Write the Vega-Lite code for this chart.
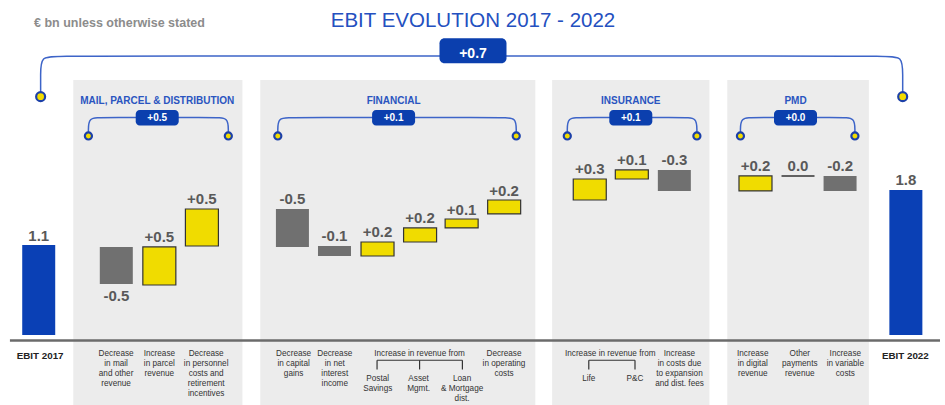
{
  "$schema": "https://vega.github.io/schema/vega-lite/v6.json",
  "width": 945,
  "height": 405,
  "autosize": {"type": "fit", "contains": "padding"},
  "padding": 0,
  "background": "#ffffff",
  "config": {"view": {"stroke": null}, "axis": {"disable": true}},
  "datasets": {
    "bars": [
      {"name": "EBIT 2017", "slot": 0.17, "low": 0, "high": 1.104, "type": "total", "label": "1.1", "side": "above"},
      {"name": "Mail", "slot": 2.0, "low": 0.626, "high": 1.08, "type": "down", "label": "-0.5", "side": "below"},
      {"name": "Parcel", "slot": 3.015, "low": 0.613, "high": 1.08, "type": "up", "label": "+0.5", "side": "above"},
      {"name": "Personnel", "slot": 4.019, "low": 1.092, "high": 1.546, "type": "up", "label": "+0.5", "side": "above"},
      {"name": "Capital gains", "slot": 6.154, "low": 1.08, "high": 1.546, "type": "down", "label": "-0.5", "side": "above"},
      {"name": "Net interest income", "slot": 7.146, "low": 0.969, "high": 1.092, "type": "down", "label": "-0.1", "side": "above"},
      {"name": "Postal Savings", "slot": 8.161, "low": 0.969, "high": 1.141, "type": "up", "label": "+0.2", "side": "above"},
      {"name": "Asset Mgmt.", "slot": 9.165, "low": 1.141, "high": 1.313, "type": "up", "label": "+0.2", "side": "above"},
      {"name": "Loan & Mortgage dist.", "slot": 10.145, "low": 1.313, "high": 1.423, "type": "up", "label": "+0.1", "side": "above"},
      {"name": "Operating costs", "slot": 11.148, "low": 1.485, "high": 1.656, "type": "up", "label": "+0.2", "side": "above"},
      {"name": "Life", "slot": 13.167, "low": 1.656, "high": 1.914, "type": "up", "label": "+0.3", "side": "above"},
      {"name": "P&C", "slot": 14.159, "low": 1.914, "high": 2.025, "type": "up", "label": "+0.1", "side": "above"},
      {"name": "Insurance costs", "slot": 15.162, "low": 1.767, "high": 2.025, "type": "down", "label": "-0.3", "side": "above"},
      {"name": "Digital revenue", "slot": 17.076, "low": 1.767, "high": 1.951, "type": "up", "label": "+0.2", "side": "above"},
      {"name": "Other payments revenue", "slot": 18.079, "low": 1.951, "high": 1.951, "type": "zero", "label": "0.0", "side": "above"},
      {"name": "Variable costs", "slot": 19.071, "low": 1.767, "high": 1.951, "type": "down", "label": "-0.2", "side": "above"},
      {"name": "EBIT 2022", "slot": 20.623, "low": 0, "high": 1.779, "type": "total", "label": "1.8", "side": "above"}
    ],
    "panels": [
      {"g": "MPD", "x0": 0.985, "x1": 4.975},
      {"g": "FIN", "x0": 5.396, "x1": 11.883},
      {"g": "INS", "x0": 12.28, "x1": 15.99},
      {"g": "PMD", "x0": 16.41, "x1": 19.75}
    ],
    "groups": [
      {"title": "MAIL, PARCEL & DISTRIBUTION", "center": 2.965, "delta": "+0.5"},
      {"title": "FINANCIAL", "center": 8.54, "delta": "+0.1"},
      {"title": "INSURANCE", "center": 14.135, "delta": "+0.1"},
      {"title": "PMD", "center": 18.02, "delta": "+0.0"}
    ],
    "brackets": [
      {"g": "ALL", "i": 0, "bx": 0.215, "by": 2.924},
      {"g": "ALL", "i": 1, "bx": 0.215, "by": 3.202},
      {"g": "ALL", "i": 2, "bx": 0.215, "by": 3.423},
      {"g": "ALL", "i": 3, "bx": 0.635, "by": 3.423},
      {"g": "ALL", "i": 4, "bx": 20.128, "by": 3.423},
      {"g": "ALL", "i": 5, "bx": 20.548, "by": 3.423},
      {"g": "ALL", "i": 6, "bx": 20.548, "by": 3.202},
      {"g": "ALL", "i": 7, "bx": 20.548, "by": 2.924},
      {"g": "MPD", "i": 0, "bx": 1.342, "by": 2.442},
      {"g": "MPD", "i": 1, "bx": 1.342, "by": 2.503},
      {"g": "MPD", "i": 2, "bx": 1.342, "by": 2.669},
      {"g": "MPD", "i": 3, "bx": 1.657, "by": 2.669},
      {"g": "MPD", "i": 4, "bx": 4.327, "by": 2.669},
      {"g": "MPD", "i": 5, "bx": 4.642, "by": 2.669},
      {"g": "MPD", "i": 6, "bx": 4.642, "by": 2.503},
      {"g": "MPD", "i": 7, "bx": 4.642, "by": 2.442},
      {"g": "FIN", "i": 0, "bx": 5.809, "by": 2.442},
      {"g": "FIN", "i": 1, "bx": 5.809, "by": 2.503},
      {"g": "FIN", "i": 2, "bx": 5.809, "by": 2.669},
      {"g": "FIN", "i": 3, "bx": 6.124, "by": 2.669},
      {"g": "FIN", "i": 4, "bx": 11.118, "by": 2.669},
      {"g": "FIN", "i": 5, "bx": 11.433, "by": 2.669},
      {"g": "FIN", "i": 6, "bx": 11.433, "by": 2.503},
      {"g": "FIN", "i": 7, "bx": 11.433, "by": 2.442},
      {"g": "INS", "i": 0, "bx": 12.637, "by": 2.442},
      {"g": "INS", "i": 1, "bx": 12.637, "by": 2.503},
      {"g": "INS", "i": 2, "bx": 12.637, "by": 2.669},
      {"g": "INS", "i": 3, "bx": 12.952, "by": 2.669},
      {"g": "INS", "i": 4, "bx": 15.379, "by": 2.669},
      {"g": "INS", "i": 5, "bx": 15.694, "by": 2.669},
      {"g": "INS", "i": 6, "bx": 15.694, "by": 2.503},
      {"g": "INS", "i": 7, "bx": 15.694, "by": 2.442},
      {"g": "PMD", "i": 0, "bx": 16.721, "by": 2.442},
      {"g": "PMD", "i": 1, "bx": 16.721, "by": 2.503},
      {"g": "PMD", "i": 2, "bx": 16.721, "by": 2.669},
      {"g": "PMD", "i": 3, "bx": 17.036, "by": 2.669},
      {"g": "PMD", "i": 4, "bx": 19.106, "by": 2.669},
      {"g": "PMD", "i": 5, "bx": 19.421, "by": 2.669},
      {"g": "PMD", "i": 6, "bx": 19.421, "by": 2.503},
      {"g": "PMD", "i": 7, "bx": 19.421, "by": 2.442}
    ],
    "catLabels": [
      {"slot": 1.995, "text": "Decrease\nin mail\nand other\nrevenue"},
      {"slot": 3.015, "text": "Increase\nin parcel\nrevenue"},
      {"slot": 4.119, "text": "Decrease\nin personnel\ncosts and\nretirement\nincentives"},
      {"slot": 6.182, "text": "Decrease\nin capital\ngains"},
      {"slot": 7.153, "text": "Decrease\nin net\ninterest\nincome"},
      {"slot": 9.153, "text": "Increase in revenue from"},
      {"slot": 11.144, "text": "Decrease\nin operating\ncosts"},
      {"slot": 13.65, "text": "Increase in revenue from"},
      {"slot": 15.283, "text": "Increase\nin costs due\nto expansion\nand dist. fees"},
      {"slot": 17.011, "text": "Increase\nin digital\nrevenue"},
      {"slot": 18.121, "text": "Other\npayments\nrevenue"},
      {"slot": 19.195, "text": "Increase\nin variable\ncosts"}
    ],
    "subLabels": [
      {"slot": 8.166, "text": "Postal\nSavings"},
      {"slot": 9.129, "text": "Asset\nMgmt."},
      {"slot": 10.156, "text": "Loan\n& Mortgage\ndist."},
      {"slot": 13.144, "text": "Life"},
      {"slot": 14.234, "text": "P&C"}
    ],
    "totalLabels": [
      {"slot": 0.203, "text": "EBIT 2017"},
      {"slot": 20.611, "text": "EBIT 2022"}
    ],
    "subSpans": [
      {"l": 8.15, "r": 10.163},
      {"l": 13.144, "r": 14.234}
    ],
    "subTicks": [
      {"t": 8.15}, {"t": 9.153}, {"t": 10.163}, {"t": 13.144}, {"t": 14.234}
    ]
  },
  "layer": [
    {
      "data": {"name": "panels"},
      "mark": {"type": "rect", "color": "#ececec"},
      "encoding": {
        "x": {"field": "x0", "type": "quantitative", "scale": {"domain": [-0.6254, 21.428], "nice": false, "zero": false}},
        "x2": {"field": "x1"},
        "y": {"datum": 3.129, "type": "quantitative", "scale": {"domain": [-0.859, 4.11], "nice": false, "zero": false}},
        "y2": {"datum": -0.859}
      }
    },
    {
      "data": {"values": [{"k": 1}]},
      "mark": {"type": "rule", "color": "#6b6b6b", "strokeWidth": 2.5},
      "encoding": {
        "x": {"datum": -0.509, "type": "quantitative"},
        "x2": {"datum": 21.428},
        "y": {"datum": -0.0675, "type": "quantitative"}
      }
    },
    {
      "data": {"name": "brackets"},
      "mark": {"type": "line", "interpolate": "basis", "color": "#3d64c8", "strokeWidth": 1.5},
      "encoding": {
        "x": {"field": "bx", "type": "quantitative"},
        "y": {"field": "by", "type": "quantitative"},
        "order": {"field": "i", "type": "quantitative"},
        "detail": {"field": "g"}
      }
    },
    {
      "data": {"name": "brackets"},
      "transform": [{"filter": "datum.i == 0 || datum.i == 7"}],
      "mark": {"type": "point", "shape": "circle", "filled": true, "fill": "#f2dc00", "stroke": "#1c40a8", "strokeWidth": 2.2, "opacity": 1},
      "encoding": {
        "x": {"field": "bx", "type": "quantitative"},
        "y": {"field": "by", "type": "quantitative"},
        "size": {"condition": {"test": "datum.g === 'ALL'", "value": 80}, "value": 50}
      }
    },
    {
      "data": {"name": "groups"},
      "mark": {"type": "bar", "width": 43, "color": "#0b3fae", "cornerRadius": 4},
      "encoding": {
        "x": {"field": "center", "type": "quantitative"},
        "y": {"datum": 2.761, "type": "quantitative"},
        "y2": {"datum": 2.57}
      }
    },
    {
      "data": {"name": "groups"},
      "mark": {"type": "text", "color": "#ffffff", "font": "Liberation Sans", "fontWeight": "bold", "fontSize": 10, "baseline": "middle", "align": "center"},
      "encoding": {
        "x": {"field": "center", "type": "quantitative"},
        "y": {"datum": 2.667, "type": "quantitative"},
        "text": {"field": "delta"}
      }
    },
    {
      "data": {"name": "groups"},
      "mark": {"type": "text", "color": "#2a55c0", "font": "Liberation Sans", "fontWeight": "bold", "fontSize": 10, "baseline": "alphabetic", "align": "center"},
      "encoding": {
        "x": {"field": "center", "type": "quantitative"},
        "y": {"datum": 2.834, "type": "quantitative"},
        "text": {"field": "title"}
      }
    },
    {
      "data": {"values": [{"label": "+0.7", "center": 10.413}]},
      "mark": {"type": "bar", "width": 67, "color": "#0b3fae", "cornerRadius": 5},
      "encoding": {
        "x": {"field": "center", "type": "quantitative"},
        "y": {"datum": 3.64, "type": "quantitative"},
        "y2": {"datum": 3.334}
      }
    },
    {
      "data": {"values": [{"label": "+0.7", "center": 10.413}]},
      "mark": {"type": "text", "color": "#ffffff", "font": "Liberation Sans", "fontWeight": "bold", "fontSize": 14, "baseline": "middle", "align": "center"},
      "encoding": {
        "x": {"field": "center", "type": "quantitative"},
        "y": {"datum": 3.453, "type": "quantitative"},
        "text": {"field": "label"}
      }
    },
    {
      "data": {"values": [{"t": "EBIT EVOLUTION 2017 - 2022"}]},
      "mark": {"type": "text", "color": "#2450c0", "font": "Liberation Sans", "fontSize": 20.5, "baseline": "alphabetic", "align": "center"},
      "encoding": {
        "x": {"datum": 10.413, "type": "quantitative"},
        "y": {"datum": 3.783, "type": "quantitative"},
        "text": {"field": "t"}
      }
    },
    {
      "data": {"values": [{"t": "€ bn unless otherwise stated"}]},
      "mark": {"type": "text", "color": "#8c8c8c", "font": "Liberation Sans", "fontWeight": "bold", "fontSize": 12.5, "baseline": "alphabetic", "align": "left"},
      "encoding": {
        "x": {"datum": 0.06, "type": "quantitative"},
        "y": {"datum": 3.783, "type": "quantitative"},
        "text": {"field": "t"}
      }
    },
    {
      "data": {"name": "bars"},
      "transform": [{"filter": "datum.type === 'total'"}],
      "mark": {"type": "bar", "width": 33, "color": "#0a40b5"},
      "encoding": {
        "x": {"field": "slot", "type": "quantitative"},
        "y": {"field": "low", "type": "quantitative"},
        "y2": {"field": "high"}
      }
    },
    {
      "data": {"name": "bars"},
      "transform": [{"filter": "datum.type === 'up'"}],
      "mark": {"type": "bar", "width": 33, "color": "#f0dc00", "stroke": "#333333", "strokeWidth": 1.2},
      "encoding": {
        "x": {"field": "slot", "type": "quantitative"},
        "y": {"field": "low", "type": "quantitative"},
        "y2": {"field": "high"}
      }
    },
    {
      "data": {"name": "bars"},
      "transform": [{"filter": "datum.type === 'down'"}],
      "mark": {"type": "bar", "width": 33, "color": "#707070"},
      "encoding": {
        "x": {"field": "slot", "type": "quantitative"},
        "y": {"field": "low", "type": "quantitative"},
        "y2": {"field": "high"}
      }
    },
    {
      "data": {"name": "bars"},
      "transform": [{"filter": "datum.type === 'zero'"}],
      "mark": {"type": "bar", "width": 33, "fill": "transparent", "stroke": "#333333", "strokeWidth": 1.6},
      "encoding": {
        "x": {"field": "slot", "type": "quantitative"},
        "y": {"field": "low", "type": "quantitative"},
        "y2": {"field": "high"}
      }
    },
    {
      "data": {"name": "bars"},
      "transform": [{"filter": "datum.side === 'above'"}],
      "mark": {"type": "text", "color": "#595959", "font": "Liberation Sans", "fontWeight": "bold", "fontSize": 15, "baseline": "alphabetic", "align": "center", "dy": -4.5},
      "encoding": {
        "x": {"field": "slot", "type": "quantitative"},
        "y": {"field": "high", "type": "quantitative"},
        "text": {"field": "label"}
      }
    },
    {
      "data": {"name": "bars"},
      "transform": [{"filter": "datum.side === 'below'"}],
      "mark": {"type": "text", "color": "#595959", "font": "Liberation Sans", "fontWeight": "bold", "fontSize": 15, "baseline": "top", "align": "center", "dy": 5},
      "encoding": {
        "x": {"field": "slot", "type": "quantitative"},
        "y": {"field": "low", "type": "quantitative"},
        "text": {"field": "label"}
      }
    },
    {
      "data": {"name": "catLabels"},
      "mark": {"type": "text", "color": "#333333", "font": "Liberation Sans", "fontSize": 8.2, "lineHeight": 10, "lineBreak": "\n", "baseline": "top", "align": "center"},
      "encoding": {
        "x": {"field": "slot", "type": "quantitative"},
        "y": {"datum": -0.19, "type": "quantitative"},
        "text": {"field": "text"}
      }
    },
    {
      "data": {"name": "subLabels"},
      "mark": {"type": "text", "color": "#333333", "font": "Liberation Sans", "fontSize": 8.2, "lineHeight": 10, "lineBreak": "\n", "baseline": "top", "align": "center"},
      "encoding": {
        "x": {"field": "slot", "type": "quantitative"},
        "y": {"datum": -0.493, "type": "quantitative"},
        "text": {"field": "text"}
      }
    },
    {
      "data": {"name": "totalLabels"},
      "mark": {"type": "text", "color": "#222222", "font": "Liberation Sans", "fontWeight": "bold", "fontSize": 9.8, "baseline": "alphabetic", "align": "center"},
      "encoding": {
        "x": {"field": "slot", "type": "quantitative"},
        "y": {"datum": -0.298, "type": "quantitative"},
        "text": {"field": "text"}
      }
    },
    {
      "data": {"name": "subSpans"},
      "mark": {"type": "rule", "color": "#333333", "strokeWidth": 1.2},
      "encoding": {
        "x": {"field": "l", "type": "quantitative"},
        "x2": {"field": "r"},
        "y": {"datum": -0.31, "type": "quantitative"}
      }
    },
    {
      "data": {"name": "subTicks"},
      "mark": {"type": "rule", "color": "#333333", "strokeWidth": 1.2},
      "encoding": {
        "x": {"field": "t", "type": "quantitative"},
        "y": {"datum": -0.31, "type": "quantitative"},
        "y2": {"datum": -0.423}
      }
    }
  ]
}
